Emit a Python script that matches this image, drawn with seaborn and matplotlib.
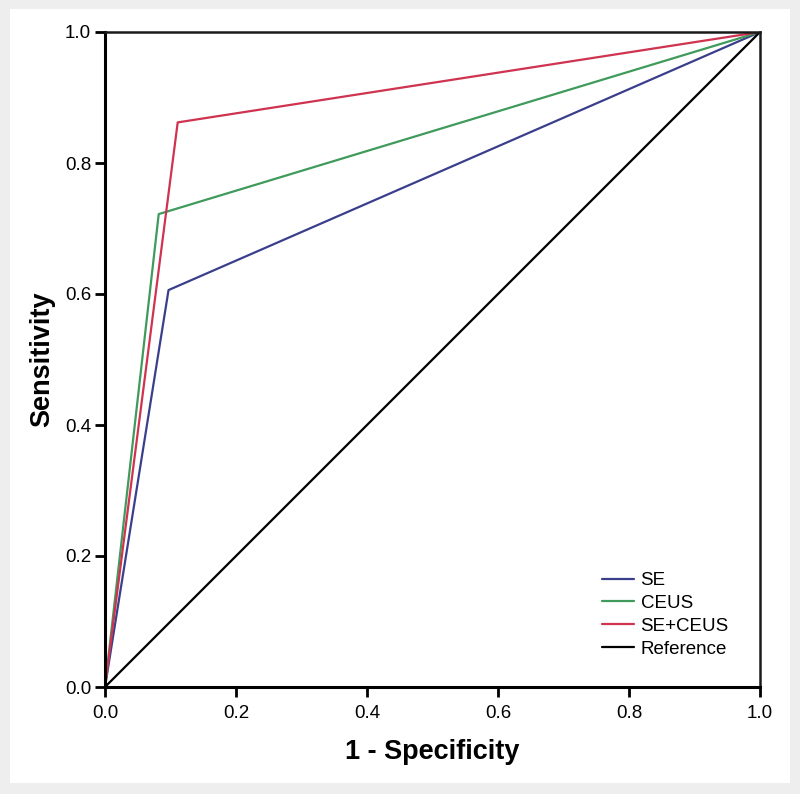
import pandas as pd
import matplotlib.pyplot as plt
import matplotlib.patches as mpatches
import seaborn as sns

# ROC curve points
series = ["SE", "CEUS", "SE+CEUS", "Reference"]
fpr_se = [0.0, 0.097, 1.0]
tpr_se = [0.0, 0.606, 1.0]
fpr_ceus = [0.0, 0.082, 1.0]
tpr_ceus = [0.0, 0.722, 1.0]
fpr_both = [0.0, 0.111, 1.0]
tpr_both = [0.0, 0.862, 1.0]
fpr_ref = [0.0, 1.0]
tpr_ref = [0.0, 1.0]
ticks = [0.0, 0.2, 0.4, 0.6, 0.8, 1.0]

colors = {"SE": "#3a3f8c", "CEUS": "#3f9a5c", "SE+CEUS": "#cf3350", "Reference": "black"}

frames = []
for name, xs, ys in zip(series,
                        [fpr_se, fpr_ceus, fpr_both, fpr_ref],
                        [tpr_se, tpr_ceus, tpr_both, tpr_ref]):
    frames.append(pd.DataFrame({"fpr": xs, "tpr": ys, "curve": name}))
df = pd.concat(frames, ignore_index=True)

sns.set_theme(style="white")
plt.rcParams['font.family'] = ['Liberation Sans', 'DejaVu Sans']
plt.rcParams['text.color'] = 'black'
plt.rcParams['axes.labelcolor'] = 'black'

fig = plt.figure(figsize=(8, 7.94), dpi=100, facecolor="#eeeeee")
# white panel behind the chart
fig.patches.append(mpatches.Rectangle((10 / 800, 1 - 783 / 794), 780 / 800, 774 / 794,
                                      transform=fig.transFigure, facecolor="white",
                                      edgecolor="none", zorder=-5))
ax = fig.add_axes([105 / 800, 1 - 687 / 794, 655 / 800, 655 / 794])
ax.set_facecolor("white")

sns.lineplot(data=df, x="fpr", y="tpr", hue="curve", hue_order=series,
             palette=colors, sort=False, estimator=None, linewidth=1.6, ax=ax)

ax.set_xlim(0, 1)
ax.set_ylim(0, 1)
ax.set_xticks(ticks)
ax.set_yticks(ticks)
ax.set_xticklabels([f"{t:.1f}" for t in ticks])
ax.set_yticklabels([f"{t:.1f}" for t in ticks])
ax.tick_params(axis="both", direction="out", length=7, width=2, labelsize=13.5,
               bottom=True, left=True, color="black", labelcolor="black", pad=3)
ax.tick_params(axis="x", pad=6)

for side in ["left", "bottom"]:
    ax.spines[side].set_linewidth(2.2)
    ax.spines[side].set_color("black")
for side in ["top", "right"]:
    ax.spines[side].set_linewidth(1.8)
    ax.spines[side].set_color("#1a1a1a")

ax.set_xlabel("1 - Specificity", fontsize=19.5, fontweight="bold", labelpad=12)
ax.set_ylabel("Sensitivity", fontsize=19.5, fontweight="bold", labelpad=7)

leg = ax.legend(loc="lower left", bbox_to_anchor=(0.759, 0.045), frameon=False,
                fontsize=13.5, handlelength=1.7, handletextpad=0.35, labelspacing=0.3,
                borderpad=0, borderaxespad=0)
for line in leg.get_lines():
    line.set_linewidth(1.6)

plt.savefig("out.png", dpi=100, facecolor=fig.get_facecolor())
